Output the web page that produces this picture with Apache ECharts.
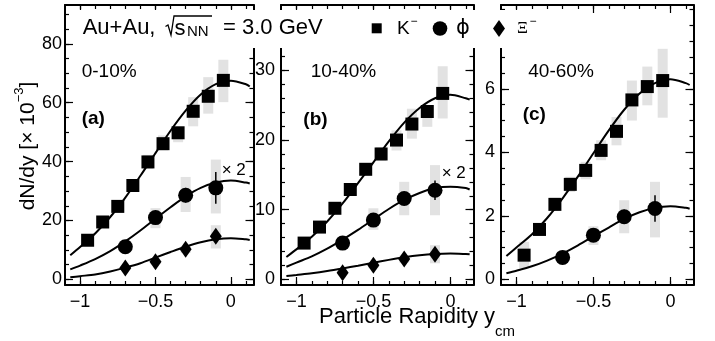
<!DOCTYPE html>
<html>
<head>
<meta charset="utf-8">
<script src="https://cdn.jsdelivr.net/npm/echarts@6/dist/echarts.min.js"></script>
<style>
  html, body { margin: 0; padding: 0; background: #fff; }
  #chart { width: 715px; height: 341px; }
</style>
</head>
<body>
<div id="chart"></div>
<script>
const FONT = '"Liberation Sans", Arial, Helvetica, sans-serif';

// rapidity bins
const K_Y = [-0.95, -0.85, -0.75, -0.65, -0.55, -0.45, -0.35, -0.25, -0.15, -0.05];
const PHI_Y = [-0.7, -0.5, -0.3, -0.1];
const XI_Y = [-0.7, -0.5, -0.3, -0.1];
const FIT_Y = [-1.065, -1.0, -0.9, -0.8, -0.7, -0.6, -0.5, -0.4, -0.3, -0.2, -0.1, 0, 0.1, 0.125];

// 0-10%
const K_010 = [13.3, 19.5, 24.8, 31.9, 39.9, 46.1, 49.8, 57.1, 62.2, 67.6];
const K_010_SYS = [[12, 14.6], [18, 21], [23, 26.6], [29.8, 34], [37.5, 42.3], [43.8, 48.9], [46.6, 51.7], [52, 61.9], [56.3, 68.7], [60.2, 74.6]];
const PHI_010 = [11.1, 21.0, 28.6, 31.1];
const PHI_010_SYS = [[9.5, 12.8], [17.4, 24.2], [22.9, 34.8], [22.4, 40.7]];
const PHI_010_STAT = [1.0, 1.5, 2.5, 5.4];
const XI_010 = [3.9, 6.0, 10.2, 14.7];
const XI_010_SYS = [[3.2, 4.6], [5.2, 6.8], [9.0, 11.4], [10.5, 18.4]];
const K_010_FIT = [8.2, 11.0, 15.6, 21.2, 27.8, 35.2, 42.9, 50.5, 57.3, 62.8, 66.3, 67.5, 66.3, 65.5];
const PHI_010_FIT = [3.4, 4.7, 6.9, 9.6, 12.9, 16.6, 20.6, 24.5, 28.2, 31.1, 32.9, 33.6, 32.9, 32.6];
const XI_010_FIT = [0.7, 1.1, 1.7, 2.7, 4.0, 5.5, 7.4, 9.3, 11.1, 12.6, 13.6, 14.0, 13.6, 13.4];

// 10-40%
const K_1040 = [5.2, 7.5, 10.2, 12.9, 15.8, 18.0, 20.0, 22.3, 24.1, 26.7];
const K_1040_SYS = [[4.7, 5.7], [6.9, 8.1], [9.5, 10.9], [12.1, 13.7], [14.9, 16.7], [17.0, 19.0], [18.5, 21.4], [20.2, 24.5], [21.9, 25.0], [23.1, 30.6]];
const PHI_1040 = [5.2, 8.5, 11.6, 12.8];
const PHI_1040_SYS = [[4.5, 5.9], [7.1, 10.2], [9.2, 14.0], [9.2, 16.4]];
const PHI_1040_STAT = [0.4, 0.6, 0.9, 1.4];
const XI_1040 = [0.95, 2.0, 2.9, 3.6];
const XI_1040_SYS = [[0.7, 1.2], [1.6, 2.4], [2.4, 3.4], [2.3, 4.9]];
const K_1040_FIT = [3.2, 4.3, 6.1, 8.3, 10.9, 13.8, 16.8, 19.8, 22.5, 24.6, 26.0, 26.5, 26.0, 25.8];
const PHI_1040_FIT = [1.8, 2.4, 3.3, 4.4, 5.7, 7.1, 8.6, 10.1, 11.4, 12.4, 13.1, 13.3, 13.1, 12.9];
const XI_1040_FIT = [0.47, 0.63, 0.88, 1.19, 1.56, 1.96, 2.38, 2.79, 3.16, 3.45, 3.63, 3.7, 3.63, 3.59];

// 40-60%
const K_4060 = [0.76, 1.57, 2.36, 2.99, 3.43, 4.06, 4.66, 5.65, 6.07, 6.26];
const K_4060_SYS = [[0.35, 1.18], [1.4, 1.75], [2.15, 2.57], [2.75, 3.23], [3.15, 3.7], [3.75, 4.38], [4.22, 5.11], [5.0, 6.26], [5.48, 6.7], [5.09, 7.26]];
const PHI_4060 = [0.69, 1.39, 1.97, 2.23];
const PHI_4060_SYS = [[0.6, 0.8], [1.08, 1.67], [1.45, 2.49], [1.32, 3.07]];
const PHI_4060_STAT = [0.05, 0.1, 0.22, 0.42];
const K_4060_FIT = [0.73, 1.0, 1.41, 1.93, 2.55, 3.24, 3.97, 4.69, 5.34, 5.85, 6.18, 6.3, 6.18, 6.12];
const PHI_4060_FIT = [0.19, 0.27, 0.41, 0.59, 0.81, 1.07, 1.35, 1.63, 1.9, 2.11, 2.25, 2.3, 2.25, 2.22];

// ticks
const X_MAJOR = [-1, -0.5, 0];
const X_MINOR = [-1, -0.9, -0.8, -0.7, -0.6, -0.5, -0.4, -0.3, -0.2, -0.1, 0, 0.1];
const Y_MAJOR = [[0, 20, 40, 60, 80], [0, 10, 20, 30], [0, 2, 4, 6]];
const Y_MINOR = [
  [0, 5, 10, 15, 20, 25, 30, 35, 40, 45, 50, 55, 60, 65, 70, 75, 80, 85, 90],
  [0, 2, 4, 6, 8, 10, 12, 14, 16, 18, 20, 22, 24, 26, 28, 30, 32, 34, 36, 38],
  [0, 0.5, 1, 1.5, 2, 2.5, 3, 3.5, 4, 4.5, 5, 5.5, 6, 6.5, 7, 7.5, 8, 8.5],
];
const X_RANGE = [-1.1, 0.15];
const Y_RANGE = [[-1.9, 93.2], [-0.82, 39.4], [-0.18, 8.64]];

const GRIDS = [
  { left: 65, top: 5, width: 188.5, height: 280 },
  { left: 281, top: 5, width: 192.5, height: 280 },
  { left: 501, top: 5, width: 192.5, height: 280 },
];
const LABEL_MARGIN = [3, 6, 6];

const black = '#000';
const fmtX = (v) => (v < 0 ? '\u2212' + Math.abs(v) : String(v));

function xAxes(g) {
  const base = {
    gridIndex: g, type: 'value', min: X_RANGE[0], max: X_RANGE[1],
    splitLine: { show: false }, axisLabel: { show: false },
    axisLine: { show: false, onZero: false },
  };
  const frame = { show: true, onZero: false, lineStyle: { color: black, width: 2 } };
  const major = { show: true, inside: true, length: 8, customValues: X_MAJOR, lineStyle: { color: black, width: 1.2 } };
  const minor = { show: true, inside: true, length: 4, customValues: X_MINOR, lineStyle: { color: black, width: 1.2 } };
  return [
    { ...base, position: 'bottom', axisLine: frame, axisTick: major,
      axisLabel: { show: true, customValues: X_MAJOR, formatter: fmtX, color: black, fontSize: 18, fontFamily: FONT, margin: 8 } },
    { ...base, position: 'bottom', axisTick: minor },
    { ...base, position: 'top', axisLine: frame, axisTick: major },
    { ...base, position: 'top', axisTick: minor },
  ];
}

function yAxes(g) {
  const base = {
    gridIndex: g, type: 'value', min: Y_RANGE[g][0], max: Y_RANGE[g][1],
    splitLine: { show: false }, axisLabel: { show: false },
    axisLine: { show: false, onZero: false },
  };
  const frame = { show: true, onZero: false, lineStyle: { color: black, width: 2 } };
  const major = { show: true, inside: true, length: 8, customValues: Y_MAJOR[g], lineStyle: { color: black, width: 1.2 } };
  const minor = { show: true, inside: true, length: 4, customValues: Y_MINOR[g], lineStyle: { color: black, width: 1.2 } };
  return [
    { ...base, position: 'left', axisLine: frame, axisTick: major,
      axisLabel: { show: true, customValues: Y_MAJOR[g], color: black, fontSize: 18, fontFamily: FONT, margin: LABEL_MARGIN[g] } },
    { ...base, position: 'left', axisTick: minor },
    { ...base, position: 'right', axisLine: frame, axisTick: major },
    { ...base, position: 'right', axisTick: minor },
  ];
}

function sysSeries(g, xs, ranges) {
  return {
    type: 'custom', xAxisIndex: 4 * g, yAxisIndex: 4 * g, z: 1, silent: true,
    data: xs.map((x, i) => [x, ranges[i][0], ranges[i][1]]),
    encode: { x: 0, y: [1, 2] },
    renderItem: (params, api) => {
      const hi = api.coord([api.value(0), api.value(2)]);
      const lo = api.coord([api.value(0), api.value(1)]);
      return { type: 'rect', shape: { x: hi[0] - 5, y: hi[1], width: 10, height: lo[1] - hi[1] }, style: { fill: '#e2e2e2' } };
    },
  };
}

function statSeries(g, xs, vals, errs) {
  return {
    type: 'custom', xAxisIndex: 4 * g, yAxisIndex: 4 * g, z: 4, silent: true,
    data: xs.map((x, i) => [x, vals[i] - errs[i], vals[i] + errs[i]]),
    encode: { x: 0, y: [1, 2] },
    renderItem: (params, api) => {
      const hi = api.coord([api.value(0), api.value(2)]);
      const lo = api.coord([api.value(0), api.value(1)]);
      return { type: 'line', shape: { x1: hi[0], y1: hi[1], x2: lo[0], y2: lo[1] }, style: { stroke: black, lineWidth: 1.5 } };
    },
  };
}

function fitSeries(g, vals) {
  return {
    type: 'line', xAxisIndex: 4 * g, yAxisIndex: 4 * g, z: 2, silent: true,
    data: FIT_Y.map((x, i) => [x, vals[i]]),
    showSymbol: false, smooth: 0.3,
    lineStyle: { color: black, width: 2 },
  };
}

function markSeries(g, xs, vals, symbol, size) {
  return {
    type: 'scatter', xAxisIndex: 4 * g, yAxisIndex: 4 * g, z: 3, silent: true,
    data: xs.map((x, i) => [x, vals[i]]),
    symbol, symbolSize: size,
    itemStyle: { color: black, opacity: 1 },
  };
}

const SQ = 13, CI = 15, DI = [12, 17];

const series = [
  sysSeries(0, K_Y, K_010_SYS), sysSeries(0, PHI_Y, PHI_010_SYS), sysSeries(0, XI_Y, XI_010_SYS),
  fitSeries(0, K_010_FIT), fitSeries(0, PHI_010_FIT), fitSeries(0, XI_010_FIT),
  markSeries(0, K_Y, K_010, 'rect', SQ), markSeries(0, PHI_Y, PHI_010, 'circle', CI), markSeries(0, XI_Y, XI_010, 'diamond', DI),
  statSeries(0, PHI_Y, PHI_010, PHI_010_STAT),

  sysSeries(1, K_Y, K_1040_SYS), sysSeries(1, PHI_Y, PHI_1040_SYS), sysSeries(1, XI_Y, XI_1040_SYS),
  fitSeries(1, K_1040_FIT), fitSeries(1, PHI_1040_FIT), fitSeries(1, XI_1040_FIT),
  markSeries(1, K_Y, K_1040, 'rect', SQ), markSeries(1, PHI_Y, PHI_1040, 'circle', CI), markSeries(1, XI_Y, XI_1040, 'diamond', DI),
  statSeries(1, PHI_Y, PHI_1040, PHI_1040_STAT),

  sysSeries(2, K_Y, K_4060_SYS), sysSeries(2, PHI_Y, PHI_4060_SYS),
  fitSeries(2, K_4060_FIT), fitSeries(2, PHI_4060_FIT),
  markSeries(2, K_Y, K_4060, 'rect', SQ), markSeries(2, PHI_Y, PHI_4060, 'circle', CI),
  statSeries(2, PHI_Y, PHI_4060, PHI_4060_STAT),
];

function txt(x, y, text, size, extra) {
  return {
    type: 'text', x, y, z: 102,
    style: Object.assign({ text, fill: black, fontSize: size, fontFamily: FONT, align: 'left', verticalAlign: 'middle' }, extra || {}),
  };
}

const graphic = [
  // header box hides the axes behind the title and legend
  { type: 'rect', z: 100, shape: { x: 76, y: 10, width: 470, height: 38 }, style: { fill: '#fff' } },
  txt(82.7, 27.5, 'Au+Au,', 22),
  { type: 'polyline', z: 102, shape: { points: [[165.5, 26.5], [168, 25], [171, 35], [174, 16], [212, 16]] }, style: { stroke: black, lineWidth: 1.3, fill: null } },
  txt(174.5, 28.5, 's', 22),
  txt(187, 31.5, 'NN', 15),
  txt(223, 27.5, '= 3.0 GeV', 22),
  // legend
  { type: 'rect', z: 102, shape: { x: 371.7, y: 23.3, width: 10, height: 10 }, style: { fill: black } },
  txt(397, 28.5, 'K', 19),
  txt(410.5, 21.5, '\u2212', 12),
  { type: 'circle', z: 102, shape: { cx: 440, cy: 28.5, r: 7.3 }, style: { fill: black } },
  txt(456, 29, '\u03d5', 21, { fontFamily: '"DejaVu Sans", sans-serif' }),
  { type: 'polygon', z: 102, shape: { points: [[499, 20], [505, 28.5], [499, 37], [493, 28.5]] }, style: { fill: black } },
  txt(517, 28.5, '\u039e', 17, { fontFamily: '"Liberation Serif", serif' }),
  txt(529.5, 21.5, '\u2212', 12),
  // panel labels
  txt(81.7, 71.5, '0-10%', 19),
  txt(81.7, 119, '(a)', 19, { fontWeight: 'bold' }),
  txt(310.7, 71.5, '10-40%', 19),
  txt(303.3, 120, '(b)', 19, { fontWeight: 'bold' }),
  txt(528.3, 71.5, '40-60%', 19),
  txt(522.7, 115, '(c)', 19, { fontWeight: 'bold' }),
  txt(221.7, 170, '\u00d7 2', 17),
  txt(441.7, 173, '\u00d7 2', 17),
  // axis titles
  {
    type: 'text', x: 319, y: 317, z: 102,
    style: {
      text: '{m|Particle Rapidity y}{s|cm}', align: 'left', verticalAlign: 'middle',
      rich: {
        m: { fontSize: 22, fontFamily: FONT, fill: black, lineHeight: 44 },
        s: { fontSize: 15, fontFamily: FONT, fill: black, lineHeight: 15, verticalAlign: 'bottom' },
      },
    },
  },
  {
    type: 'text', x: 28, y: 146, z: 102, rotation: Math.PI / 2,
    style: {
      text: '{m|dN/dy [\u00d7 10}{p|\u22123}{m|]}', align: 'center', verticalAlign: 'middle',
      rich: {
        m: { fontSize: 21, fontFamily: FONT, fill: black, lineHeight: 31 },
        p: { fontSize: 13, fontFamily: FONT, fill: black, lineHeight: 13, verticalAlign: 'top' },
      },
    },
  },
];

const chart = echarts.init(document.getElementById('chart'), null, { renderer: 'canvas' });
chart.setOption({
  animation: false,
  backgroundColor: '#fff',
  grid: GRIDS,
  xAxis: [0, 1, 2].flatMap(xAxes),
  yAxis: [0, 1, 2].flatMap(yAxes),
  series,
  graphic,
});
</script>
</body>
</html>
